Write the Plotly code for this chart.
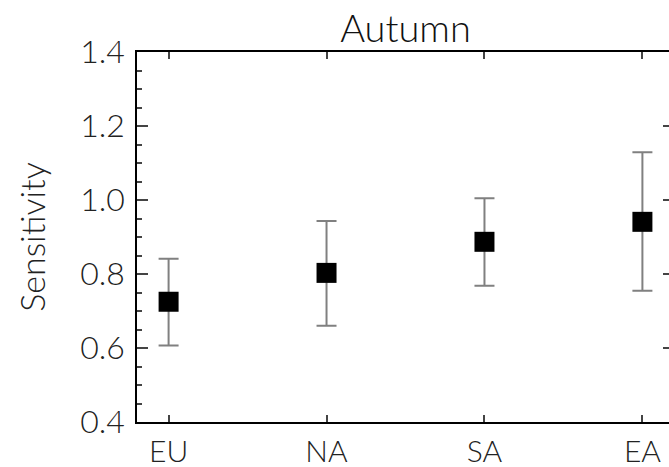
import plotly.graph_objects as go

regions = ["EU", "NA", "SA", "EA"]
positions = [1, 2, 3, 4]
sensitivity = [0.725, 0.803, 0.887, 0.941]
upper = [0.841, 0.943, 1.005, 1.129]
lower = [0.607, 0.660, 0.768, 0.755]

err_plus = [u - s for u, s in zip(upper, sensitivity)]
err_minus = [s - l for s, l in zip(sensitivity, lower)]

FONT = "Lato"
W = 300

fig = go.Figure()
fig.add_trace(go.Scatter(
    x=positions, y=sensitivity, mode="markers",
    marker=dict(symbol="square", size=20, color="black", line=dict(width=0)),
    error_y=dict(type="data", symmetric=False, array=err_plus, arrayminus=err_minus,
                 color="#808080", thickness=2, width=10),
    showlegend=False,
))

fig.update_layout(
    width=680, height=467,
    margin=dict(l=137, r=6, t=52, b=45, autoexpand=False),
    paper_bgcolor="white", plot_bgcolor="white",
    title=dict(text="Autumn", x=0.5, xref="paper", xanchor="center",
               y=0.939, yref="container", yanchor="middle",
               font=dict(family=FONT, size=38, color="#111", weight=W)),
    font=dict(family=FONT, color="black"),
)
fig.update_xaxes(
    range=[0.8, 4.2], tickvals=positions, ticktext=regions, automargin=False,
    ticks="inside", ticklen=7, tickwidth=1.5, tickcolor="#444",
    showline=True, linecolor="black", linewidth=1.5, mirror="ticks",
    showgrid=False, zeroline=False, ticklabelstandoff=2,
    tickfont=dict(family=FONT, size=30, color="#222", weight=W),
)
fig.update_yaxes(
    range=[0.4, 1.4], tickvals=[0.4, 0.6, 0.8, 1.0, 1.2, 1.4],
    ticktext=["0.4", "0.6", "0.8", "1.0", "1.2", "1.4"], automargin=False,
    ticks="inside", ticklen=11, tickwidth=1.5, tickcolor="#444",
    minor=dict(ticks="inside", ticklen=5, dtick=0.05, tick0=0.4, tickcolor="#444", tickwidth=1.5, showgrid=False),
    showline=True, linecolor="black", linewidth=1.5, mirror="ticks",
    showgrid=False, zeroline=False, ticklabelstandoff=4,
    tickfont=dict(family=FONT, size=32, color="#222", weight=W),
    title=dict(text="Sensitivity", standoff=24,
               font=dict(family=FONT, size=34, color="#222", weight=W)),
)

fig.write_html("out.html", post_script="document.body.style.overflow='hidden';document.documentElement.style.overflow='hidden';")
